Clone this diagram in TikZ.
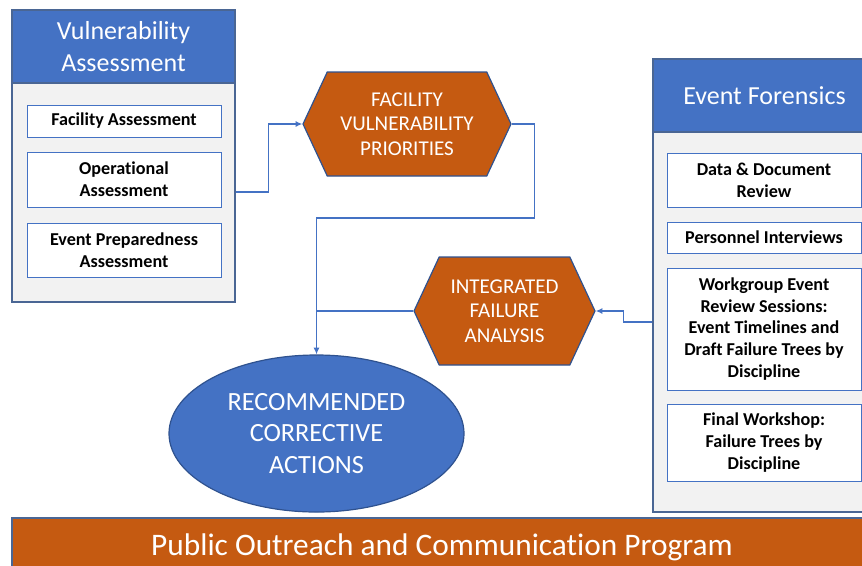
\documentclass[tikz,border=0pt]{standalone}
\usepackage{fontspec}
\setmainfont{Carlito}[Ligatures=NoCommon]
\usetikzlibrary{arrows.meta,shapes.geometric,shapes.symbols,calc}

\definecolor{offblue}{HTML}{4472C4}
\definecolor{offorange}{HTML}{C55A11}
\definecolor{offline}{HTML}{2F528F}
\definecolor{offframe}{HTML}{4A6694}
\definecolor{offgray}{HTML}{F2F2F2}
\newcommand{\pxu}{0.75pt}

\begin{document}
\begin{tikzpicture}[x=0.75pt,y=-0.75pt,
    panel/.style={draw=offframe,line width=0.9pt,fill=offgray,minimum width=223*\pxu,inner sep=0pt},
    headbox/.style={draw=offframe,line width=0.9pt,fill=offblue,text=white,align=center,
        minimum width=223*\pxu,minimum height=73*\pxu,inner sep=0pt,font=\fontsize{19.5}{24}\selectfont},
    itembox/.style={draw=offblue,line width=0.75pt,fill=white,align=center,minimum width=194*\pxu,
        inner sep=0pt,font=\bfseries\fontsize{13.6}{16.3}\selectfont},
    hexbox/.style={signal,signal to=east and west,signal pointer angle=130,draw=offline,line width=0.9pt,
        fill=offorange,text=white,align=center,inner sep=0pt,font=\fontsize{15.8}{18.2}\selectfont},
    goalbox/.style={ellipse,draw=offline,line width=0.9pt,fill=offblue,text=white,align=center,
        inner sep=0pt,minimum width=295*\pxu,minimum height=157*\pxu,font=\fontsize{19.7}{23.8}\selectfont},
    barbox/.style={draw=offframe,line width=0.9pt,fill=offorange,text=white,inner sep=0pt,
        minimum width=860*\pxu,minimum height=58*\pxu,font=\fontsize{23.5}{27}\selectfont},
    link/.style={draw=offblue,line width=1pt,-{Latex[length=5pt,width=4.5pt]}}]

    \useasboundingbox (0,0) rectangle (862,565);
    \clip (0,0) rectangle (862,565);

    % vulnerability assessment
    \node[panel,minimum height=292*\pxu] (vaPanel) at (123.5,156) {};
    \node[headbox] (vaHead) at (123.5,46.5) {Vulnerability\\Assessment};
    \node[itembox,minimum height=32*\pxu] (faBox) at (124,121) {Facility Assessment};
    \node[itembox,minimum height=55*\pxu] (oaBox) at (124,179.5) {Operational\\Assessment};
    \node[itembox,minimum height=54*\pxu] (epBox) at (124,250) {Event Preparedness\\Assessment};

    % event forensics
    \node[panel,minimum height=453*\pxu] (efPanel) at (764.5,285.5) {};
    \node[headbox] (efHead) at (764.5,95.5) {Event Forensics};
    \node[itembox,minimum height=54*\pxu] (ddBox) at (764,180) {Data \& Document\\Review};
    \node[itembox,minimum height=31*\pxu] (piBox) at (764,237.5) {Personnel Interviews};
    \node[itembox,minimum height=122*\pxu] (wgBox) at (764,329) {Workgroup Event\\Review Sessions:\\Event Timelines and\\Draft Failure Trees by\\Discipline};
    \node[itembox,minimum height=77*\pxu] (fwBox) at (764,442.5) {Final Workshop:\\Failure Trees by\\Discipline};

    % hexagons and goal
    \node[hexbox,minimum width=208*\pxu,minimum height=104*\pxu] (fvp) at (407,124) {FACILITY\\VULNERABILITY\\PRIORITIES};
    \node[hexbox,minimum width=181*\pxu,minimum height=108*\pxu] (ifa) at (504.5,311) {INTEGRATED\\FAILURE\\ANALYSIS};
    \node[goalbox] (rca) at (316.5,433.5) {RECOMMENDED\\CORRECTIVE\\ACTIONS};

    % outreach bar
    \node[barbox] (pocp) at (442,547) {Public Outreach and Communication Program};

    \draw[link] ($(vaPanel.east)+(0,36)$) -- ++(33,0) |- (fvp.west); % VA -> FVP
    \draw[link] (fvp.east) -- ++(23,0) |- (rca.north |- 0,218) -- (rca.north); % FVP -> RCA
    \draw[link,-] (ifa.west) -- (rca.north |- ifa.west); % IFA -> RCA
    \draw[link] ($(efPanel.west)+(0,36.5)$) -- ++(-29,0) |- (ifa.east); % EF -> IFA

\end{tikzpicture}
\end{document}
